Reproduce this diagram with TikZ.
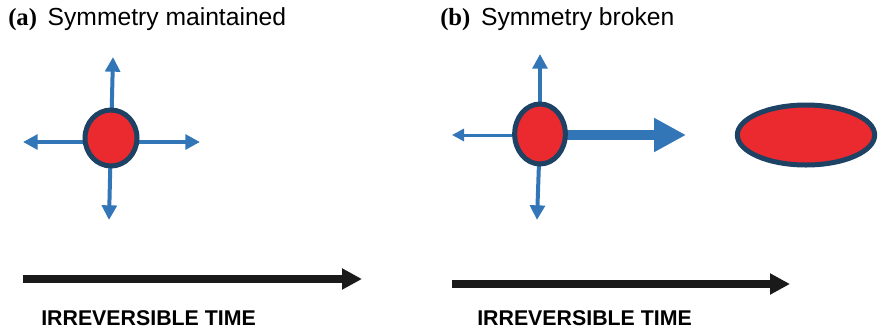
\documentclass[tikz,border=0pt]{standalone}
\usepackage{fontspec}
\setmainfont{Liberation Sans}
\newfontfamily\labelserif{Liberation Serif}
\usepackage{tikz}
\usetikzlibrary{arrows.meta,shapes.geometric,backgrounds}
\definecolor{cellred}{HTML}{EA2A2E}
\definecolor{cellrim}{HTML}{1E4264}
\definecolor{pushblue}{HTML}{3276B8}
\definecolor{timeblack}{HTML}{1A1A1A}
\tikzset{
  cell/.style={ellipse, draw=cellrim, fill=cellred, line width=3.75pt, inner sep=0pt},
  push/.style={-{Triangle[length=11pt,width=11pt]}, draw=pushblue, line width=3pt},
  thinpush/.style={-{Triangle[length=9pt,width=9pt]}, draw=pushblue, line width=2.25pt},
  bigpush/.style={-{Triangle[length=24pt,width=24pt]}, draw=pushblue, line width=7.5pt},
  timeline/.style={-{Triangle[length=15pt,width=15pt]}, draw=timeblack, line width=6pt},
  paneltitle/.style={anchor=base west, inner sep=0pt, font=\fontsize{18.5}{20}\selectfont},
  timelabel/.style={anchor=base west, inner sep=0pt, font=\fontsize{16}{18}\selectfont\bfseries},
}
\begin{document}
\begin{tikzpicture}[x=0.75pt, y=-0.75pt]
  \useasboundingbox (0,0) rectangle (882,333);

  % (a) symmetry maintained
  \node[paneltitle] (titlea) at (8,25) {{\labelserif\bfseries (a)}\hspace{8pt}Symmetry maintained};
  \node[cell, minimum width=39pt, minimum height=42pt] (cella) at (111,138) {};
  \coordinate (upa) at (113,57);
  \coordinate (downa) at (109,220);
  \coordinate (lefta) at (23,142);
  \coordinate (righta) at (200,142);
  \begin{scope}[on background layer]
    \draw[push] (cella.center) -- (upa);
    \draw[push] (cella.center) -- (downa);
    \draw[push] (cella.center |- lefta) -- (lefta);
    \draw[push] (cella.center |- righta) -- (righta);
  \end{scope}

  % (b) symmetry broken
  \node[paneltitle] (titleb) at (440,25) {{\labelserif\bfseries (b)}\hspace{8pt}Symmetry broken};
  \node[cell, minimum width=38pt, minimum height=45pt] (cellb) at (540,134) {};
  \node[cell, minimum width=103pt, minimum height=45pt] (stretched) at (806,135) {};
  \coordinate (upb) at (540,54);
  \coordinate (downb) at (537,220);
  \coordinate (leftb) at (452,135);
  \coordinate (rightb) at (686,135);
  \begin{scope}[on background layer]
    \draw[push] (cellb.center) -- (upb);
    \draw[push] (cellb.center) -- (downb);
    \draw[thinpush] (cellb.center |- leftb) -- (leftb);
    \draw[bigpush] (cellb.center |- rightb) -- (rightb);
  \end{scope}

  % time axes
  \coordinate (starta) at (23,279);
  \coordinate (enda) at (362,279);
  \coordinate (startb) at (452,284);
  \coordinate (endb) at (790,284);
  \draw[timeline] (starta) -- (enda);
  \draw[timeline] (startb) -- (endb);
  \node[timelabel] (timea) at (41,325) {IRREVERSIBLE TIME};
  \node[timelabel] (timeb) at (477,325) {IRREVERSIBLE TIME};
\end{tikzpicture}
\end{document}
